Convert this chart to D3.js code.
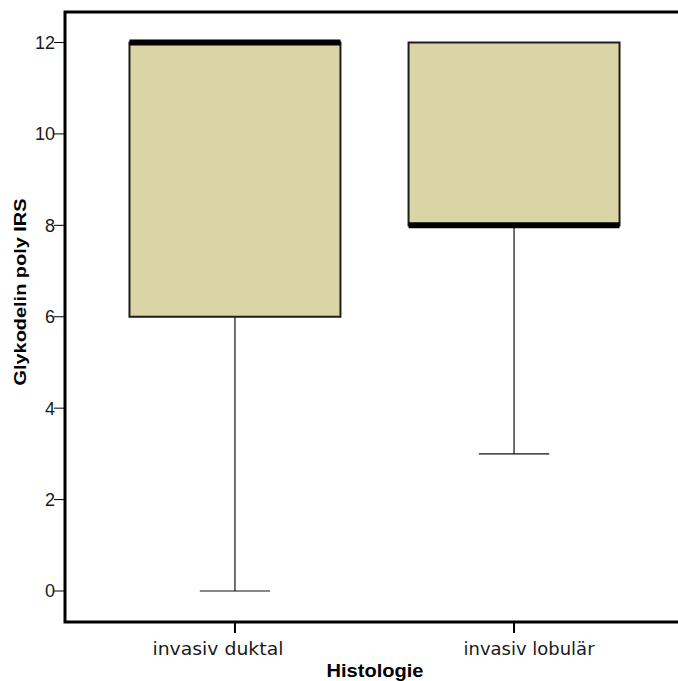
<!DOCTYPE html>
<html>
<head>
<meta charset="utf-8">
<script src="https://cdn.jsdelivr.net/npm/d3@7/dist/d3.min.js"></script>
<style>
  html, body { margin: 0; padding: 0; background: #fff; }
  svg { display: block; }
</style>
</head>
<body>
<svg id="chart" width="678" height="681"></svg>
<script>
// Box plot: Glykodelin poly IRS by histology
const categories = ["invasiv duktal", "invasiv lobulär"];
const whiskerLow = [0, 3];
const q1 = [6, 8];
const median = [12, 8];
const q3 = [12, 12];
const whiskerHigh = [12, 12];
const yTicks = [0, 2, 4, 6, 8, 10, 12];

const W = 678, H = 681;
const frame = { left: 65, top: 12, bottom: 622, right: 684 };

const svg = d3.select("#chart");

const x = d3.scalePoint()
  .domain(categories)
  .range([frame.left, frame.right])
  .padding(0.609);

const y = d3.scaleLinear()
  .domain([0, 12])
  .range([591, 42.5]);

const boxW = x.step() * 0.756;
const capW = boxW / 3;

const boxes = categories.map((c, i) => ({
  c, lo: whiskerLow[i], q1: q1[i], med: median[i], q3: q3[i], hi: whiskerHigh[i]
}));

const g = svg.append("g");

// whiskers
g.selectAll("line.whisker-low").data(boxes).join("line")
  .attr("x1", d => x(d.c)).attr("x2", d => x(d.c))
  .attr("y1", d => y(d.q1)).attr("y2", d => y(d.lo))
  .attr("stroke", "#111").attr("stroke-width", 1.2);
g.selectAll("line.whisker-high").data(boxes.filter(d => d.hi > d.q3)).join("line")
  .attr("x1", d => x(d.c)).attr("x2", d => x(d.c))
  .attr("y1", d => y(d.q3)).attr("y2", d => y(d.hi))
  .attr("stroke", "#111").attr("stroke-width", 1.2);

// whisker caps
g.selectAll("line.cap-low").data(boxes.filter(d => d.lo < d.q1)).join("line")
  .attr("x1", d => x(d.c) - capW / 2).attr("x2", d => x(d.c) + capW / 2)
  .attr("y1", d => y(d.lo)).attr("y2", d => y(d.lo))
  .attr("stroke", "#111").attr("stroke-width", 1.2);

// boxes
g.selectAll("rect.box").data(boxes).join("rect")
  .attr("x", d => x(d.c) - boxW / 2)
  .attr("width", boxW)
  .attr("y", d => y(d.q3))
  .attr("height", d => y(d.q1) - y(d.q3))
  .attr("fill", "#d9d5a6")
  .attr("stroke", "#1e1e1a")
  .attr("stroke-width", 2);

// medians
g.selectAll("line.median").data(boxes).join("line")
  .attr("x1", d => x(d.c) - boxW / 2).attr("x2", d => x(d.c) + boxW / 2)
  .attr("y1", d => y(d.med)).attr("y2", d => y(d.med))
  .attr("stroke", "#000").attr("stroke-width", 6);

// frame
svg.append("path")
  .attr("d", `M${frame.right},${frame.top}H${frame.left}V${frame.bottom}H${frame.right}`)
  .attr("fill", "none")
  .attr("stroke", "#000")
  .attr("stroke-width", 3);

// y axis ticks and labels
const yAxis = svg.append("g");
yAxis.selectAll("line").data(yTicks).join("line")
  .attr("x1", frame.left - 11).attr("x2", frame.left)
  .attr("y1", d => y(d)).attr("y2", d => y(d))
  .attr("stroke", "#000").attr("stroke-width", 1);
yAxis.selectAll("text").data(yTicks).join("text")
  .attr("x", frame.left - 10)
  .attr("y", d => y(d))
  .attr("dy", "0.36em")
  .attr("text-anchor", "end")
  .attr("font-family", "Liberation Sans, Arial, sans-serif")
  .attr("font-size", 18)
  .attr("fill", "#1a1a1a")
  .text(d => d);

// x axis ticks and labels
const labelShift = [-17, 15];
const xAxis = svg.append("g");
xAxis.selectAll("line").data(categories).join("line")
  .attr("x1", d => x(d)).attr("x2", d => x(d))
  .attr("y1", frame.bottom).attr("y2", frame.bottom + 11)
  .attr("stroke", "#000").attr("stroke-width", 2);
xAxis.selectAll("text").data(categories).join("text")
  .attr("x", (d, i) => x(d) + labelShift[i])
  .attr("y", 655)
  .attr("text-anchor", "middle")
  .attr("font-family", "DejaVu Sans, Verdana, sans-serif")
  .attr("font-size", 17)
  .attr("textLength", 131)
  .attr("lengthAdjust", "spacingAndGlyphs")
  .attr("fill", "#1a1a1a")
  .text(d => d);

// axis titles
svg.append("text")
  .attr("x", 375)
  .attr("y", 677)
  .attr("text-anchor", "middle")
  .attr("font-family", "Liberation Sans, Arial, sans-serif")
  .attr("font-weight", "bold")
  .attr("font-size", 18)
  .attr("textLength", 97)
  .attr("lengthAdjust", "spacingAndGlyphs")
  .attr("fill", "#000")
  .text("Histologie");

svg.append("text")
  .attr("transform", "translate(26,292) rotate(-90)")
  .attr("text-anchor", "middle")
  .attr("font-family", "Liberation Sans, Arial, sans-serif")
  .attr("font-weight", "bold")
  .attr("font-size", 17)
  .attr("textLength", 187)
  .attr("lengthAdjust", "spacingAndGlyphs")
  .attr("fill", "#000")
  .text("Glykodelin poly IRS");
</script>
</body>
</html>
